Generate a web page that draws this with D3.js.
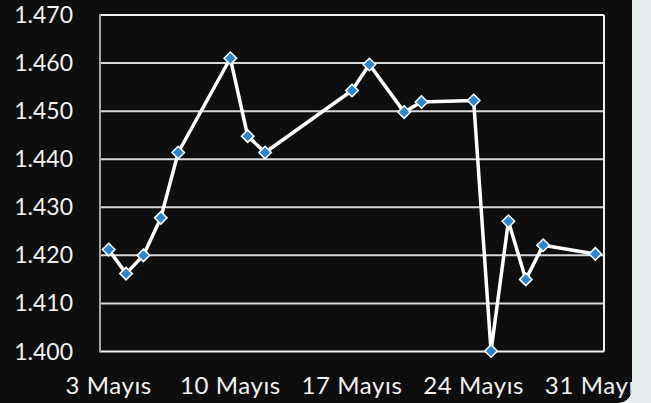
<html>
<head>
<script src="https://d3js.org/d3.v7.min.js"></script>
<style>
body { margin: 0; background: #e6ecee; }
svg { display: block; }
</style>
</head>
<body>
<svg width="651" height="403"></svg>
<script>
// days of May (2021) and closing values
const days = [3, 4, 5, 6, 7, 10, 11, 12, 17, 18, 20, 21, 24, 25, 26, 27, 28, 31];
const values = [1.4212, 1.4162, 1.4200, 1.4278, 1.4414, 1.4610, 1.4448, 1.4414, 1.4543,
                1.4597, 1.4498, 1.4519, 1.4522, 1.4001, 1.4271, 1.4150, 1.4221, 1.4203];
const yTicks = [1.40, 1.41, 1.42, 1.43, 1.44, 1.45, 1.46, 1.47];
const xTickDays = [3, 10, 17, 24, 31];

const data = days.map((d, i) => ({date: new Date(2021, 4, d), value: values[i]}));

const svg = d3.select("svg");
const plotL = 100, plotR = 604, plotT = 15, plotB = 351.5;

svg.append("clipPath").attr("id", "panel")
  .append("rect").attr("x", -20).attr("y", -20).attr("width", 652).attr("height", 423).attr("rx", 14);

const g = svg.append("g").attr("clip-path", "url(#panel)");
g.append("rect").attr("x", -20).attr("y", -20).attr("width", 652).attr("height", 423)
  .attr("rx", 14).attr("fill", "#0e0e0e");

const x = d3.scaleTime()
  .domain([new Date(2021, 4, 2, 12), new Date(2021, 4, 31, 12)])
  .range([plotL, plotR]);
const y = d3.scaleLinear().domain([1.40, 1.47]).range([plotB, plotT]);

// gridlines
g.selectAll(".grid").data(yTicks.slice(1, -1)).enter().append("line")
  .attr("x1", plotL).attr("x2", plotR)
  .attr("y1", d => y(d)).attr("y2", d => y(d))
  .attr("stroke", "#d9d9d9").attr("stroke-width", 2);

// frame
g.append("line").attr("x1", plotL).attr("x2", plotR).attr("y1", plotT).attr("y2", plotT)
  .attr("stroke", "#f2f2f2").attr("stroke-width", 2);
g.append("line").attr("x1", plotR).attr("x2", plotR).attr("y1", plotT).attr("y2", plotB)
  .attr("stroke", "#f2f2f2").attr("stroke-width", 2);
g.append("line").attr("x1", plotL).attr("x2", plotR).attr("y1", plotB).attr("y2", plotB)
  .attr("stroke", "#f2f2f2").attr("stroke-width", 2);
g.append("line").attr("x1", plotL).attr("x2", plotL).attr("y1", plotT - 1).attr("y2", plotB + 1)
  .attr("stroke", "#a6a6a6").attr("stroke-width", 2);

// y labels
g.selectAll(".ylab").data(yTicks).enter().append("text")
  .attr("x", 73).attr("y", d => y(d))
  .attr("dy", "0.35em")
  .attr("text-anchor", "end")
  .attr("fill", "#f2f2f2")
  .style("font-family", "Lato")
  .style("font-size", "23px")
  .text(d => d3.format(".3f")(d));

// x labels
g.selectAll(".xlab").data(xTickDays).enter().append("text")
  .attr("x", d => x(new Date(2021, 4, d)))
  .attr("y", 394)
  .attr("text-anchor", "middle")
  .attr("fill", "#f2f2f2")
  .style("font-family", "Lato")
  .style("font-size", "24px")
  .style("letter-spacing", "0.6px")
  .text(d => d + " Mayıs");

// line
const line = d3.line().x(d => x(d.date)).y(d => y(d.value));
g.append("path").datum(data)
  .attr("d", line)
  .attr("fill", "none")
  .attr("stroke", "#ffffff")
  .attr("stroke-width", 3.5)
  .attr("stroke-linejoin", "round");

// markers
g.selectAll(".mk").data(data).enter().append("path")
  .attr("transform", d => "translate(" + x(d.date) + "," + y(d.value) + ")")
  .attr("d", d3.symbol(d3.symbolDiamond2, 100))
  .attr("fill", "#2a86cf")
  .attr("stroke", "#ffffff")
  .attr("stroke-width", 1.5);
</script>
</body>
</html>
